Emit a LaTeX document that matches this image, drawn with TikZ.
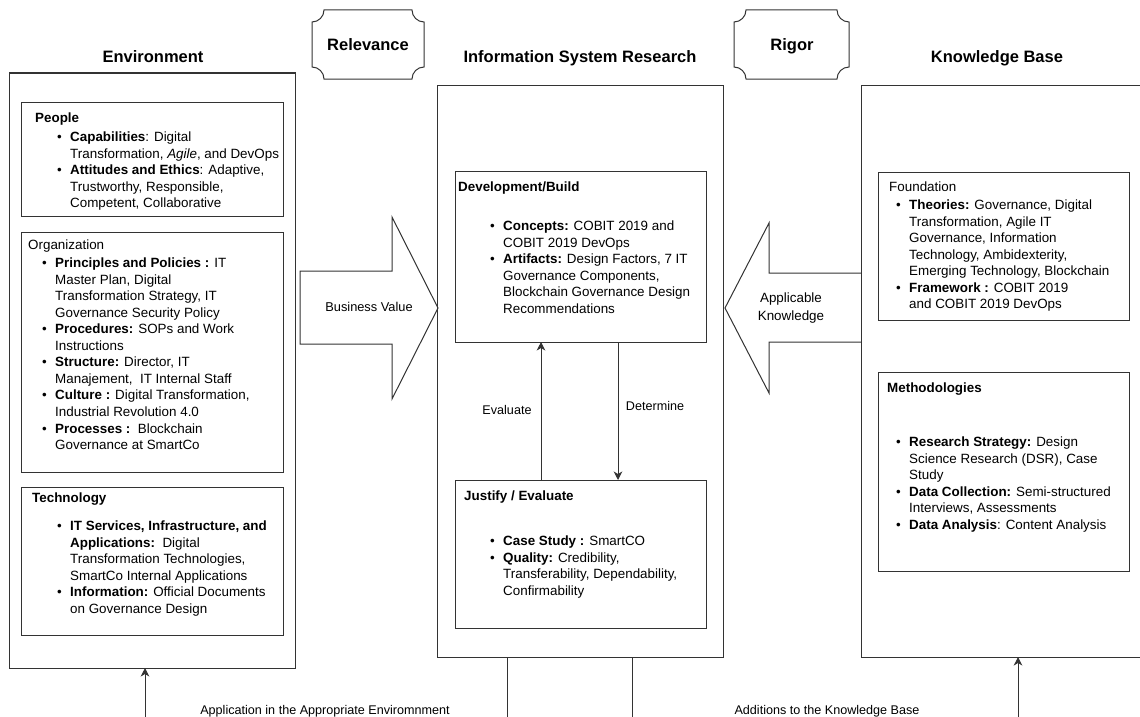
\documentclass[tikz,border=0pt]{standalone}
\usepackage{fontspec}
\setmainfont{Liberation Sans}
\usetikzlibrary{arrows.meta}
\begin{document}
\begin{tikzpicture}[x=1pt,y=-1pt,
  box/.style={draw=black!80, line width=1pt, rectangle, inner sep=0pt, outer sep=0pt},
  body/.style={font=\fontsize{13.4}{16.55}\selectfont, inner sep=0pt, anchor=base west},
  hd/.style={font=\fontsize{13.4}{16.55}\selectfont\bfseries, inner sep=0pt, anchor=base west},
  hdr/.style={font=\fontsize{13.4}{16.55}\selectfont, inner sep=0pt, anchor=base west},
  ttl/.style={font=\fontsize{16.5}{19}\selectfont\bfseries, inner sep=0pt, anchor=base},
  lbl/.style={font=\fontsize{12.6}{15}\selectfont, inner sep=0pt},
  conn/.style={draw=black!80, line width=1pt},
  arr/.style={conn, -{Stealth[length=8.5pt,width=8.5pt,inset=2.5pt]}}
]
\useasboundingbox (0,0) rectangle (1140,717);
\clip (0,0) rectangle (1140,717);

% ---------- titles ----------
\node[ttl] (envt) at (153,63) {Environment};
\node[ttl] (isrt) at (580,63) {Information System Research};
\node[ttl] (kbt)  at (997,63) {Knowledge Base};

% ---------- plaques ----------
\draw[conn] (324,10) -- (412,10) .. controls (412,16.6) and (417.4,22) .. (424,22)
  -- (424,67) .. controls (417.4,67) and (412,72.4) .. (412,79)
  -- (324,79) .. controls (324,72.4) and (318.6,67) .. (312,67)
  -- (312,22) .. controls (318.6,22) and (324,16.6) .. (324,10) -- cycle;
\node[ttl] (relevance) at (368,51) {Relevance};
\draw[conn] (746,10) -- (837,10) .. controls (837,16.6) and (842.4,22) .. (849,22)
  -- (849,67) .. controls (842.4,67) and (837,72.4) .. (837,79)
  -- (746,79) .. controls (746,72.4) and (740.6,67) .. (734,67)
  -- (734,22) .. controls (740.6,22) and (746,16.6) .. (746,10) -- cycle;
\node[ttl] (rigor) at (792,50.5) {Rigor};

% ---------- boxes ----------
\node[box, minimum width=286pt, minimum height=595pt] (env) at (152,370.5) {};
\node[box, minimum width=262pt, minimum height=114pt] (people) at (152,159) {};
\node[box, minimum width=262pt, minimum height=240pt] (org) at (152,352) {};
\node[box, minimum width=262pt, minimum height=148pt] (tech) at (152,561) {};
\node[box, minimum width=286pt, minimum height=572pt] (isr) at (580,371) {};
\node[box, minimum width=251pt, minimum height=171pt] (dev) at (580.5,256.5) {};
\node[box, minimum width=251pt, minimum height=148pt] (just) at (580.5,554) {};
\node[box, minimum width=289pt, minimum height=572pt] (kb) at (1005.5,371) {};
\node[box, minimum width=251pt, minimum height=148pt] (found) at (1003.5,246) {};
\node[box, minimum width=251pt, minimum height=199pt] (meth) at (1003.5,471.5) {};

% ---------- People ----------
\node[hd] (peoplet) at (35,122.5) {People};
\node[body] (peoplel) at (57,141.5) {\begin{tabular}[t]{@{}p{13pt}@{}l@{}}
\textbullet & \textbf{Capabilities}: Digital\\
 & Transformation, \textit{Agile}, and DevOps\\
\textbullet & \textbf{Attitudes and Ethics}: Adaptive,\\
 & Trustworthy, Responsible,\\
 & Competent, Collaborative
\end{tabular}};

% ---------- Organization ----------
\node[hdr] (orgt) at (28,249.5) {Organization};
\node[body] (orgl) at (42,267.5) {\begin{tabular}[t]{@{}p{13pt}@{}l@{}}
\textbullet & \textbf{Principles and Policies :} IT\\
 & Master Plan, Digital\\
 & Transformation Strategy, IT\\
 & Governance Security Policy\\
\textbullet & \textbf{Procedures:} SOPs and Work\\
 & Instructions\\
\textbullet & \textbf{Structure:} Director, IT\\
 & Manajement,\ \ IT Internal Staff\\
\textbullet & \textbf{Culture :} Digital Transformation,\\
 & Industrial Revolution 4.0\\
\textbullet & \textbf{Processes :}\ \ Blockchain\\
 & Governance at SmartCo
\end{tabular}};

% ---------- Technology ----------
\node[hd] (techt) at (32,502.5) {Technology};
\node[body] (techl) at (57,530.5) {\begin{tabular}[t]{@{}p{13pt}@{}l@{}}
\textbullet & \textbf{IT Services, Infrastructure, and}\\
 & \textbf{Applications:}\ \ Digital\\
 & Transformation Technologies,\\
 & SmartCo Internal Applications\\
\textbullet & \textbf{Information:} Official Documents\\
 & on Governance Design
\end{tabular}};

% ---------- Development/Build ----------
\node[hd] (devt) at (458,191.5) {Development/Build};
\node[body] (devl) at (490,230.5) {\begin{tabular}[t]{@{}p{13pt}@{}l@{}}
\textbullet & \textbf{Concepts:} COBIT 2019 and\\
 & COBIT 2019 DevOps\\
\textbullet & \textbf{Artifacts:} Design Factors, 7 IT\\
 & Governance Components,\\
 & Blockchain Governance Design\\
 & Recommendations
\end{tabular}};

% ---------- Justify / Evaluate ----------
\node[hd] (justt) at (464,500.5) {Justify / Evaluate};
\node[body] (justl) at (490,545.5) {\begin{tabular}[t]{@{}p{13pt}@{}l@{}}
\textbullet & \textbf{Case Study :} SmartCO\\
\textbullet & \textbf{Quality:} Credibility,\\
 & Transferability, Dependability,\\
 & Confirmability
\end{tabular}};

% ---------- Foundation ----------
\node[hdr] (foundt) at (889,191.5) {Foundation};
\node[body] (foundl) at (896,209.5) {\begin{tabular}[t]{@{}p{13pt}@{}l@{}}
\textbullet & \textbf{Theories:} Governance, Digital\\
 & Transformation, Agile IT\\
 & Governance, Information\\
 & Technology, Ambidexterity,\\
 & Emerging Technology, Blockchain\\
\textbullet & \textbf{Framework :} COBIT 2019\\
 & and COBIT 2019 DevOps
\end{tabular}};

% ---------- Methodologies ----------
\node[hd] (metht) at (887,392.5) {Methodologies};
\node[body] (methl) at (896,446.5) {\begin{tabular}[t]{@{}p{13pt}@{}l@{}}
\textbullet & \textbf{Research Strategy:} Design\\
 & Science Research (DSR), Case\\
 & Study\\
\textbullet & \textbf{Data Collection:} Semi-structured\\
 & Interviews, Assessments\\
\textbullet & \textbf{Data Analysis}: Content Analysis
\end{tabular}};

% ---------- big arrows ----------
\draw[conn] (300,271) -- (392,271) -- (392,217) -- (438,308) -- (392,399) -- (392,344) -- (300,344) -- cycle;
\node[lbl, font=\fontsize{12.8}{15}\selectfont] (bv) at (369,307) {Business Value};
\draw[conn] (861,273) -- (769,273) -- (769,223) -- (725,308) -- (769,393) -- (769,342) -- (861,342);
\node[lbl, align=center, font=\fontsize{13.4}{17.3}\selectfont] (ak) at (791,308) {Applicable\\Knowledge};

% ---------- inner connectors ----------
\coordinate (ev) at (541,0);
\coordinate (dt) at (618,0);
\draw[arr] (ev |- just.north) -- (ev |- dev.south);
\draw[arr] (dt |- dev.south) -- (dt |- just.north);
\node[lbl] (evl) at (507,410) {Evaluate};
\node[lbl] (detl) at (655,406) {Determine};

% ---------- bottom connectors ----------
\coordinate (envin) at (145,717);
\coordinate (isro1) at (507,717);
\coordinate (isro2) at (632,717);
\coordinate (kbin) at (1018,717);
\draw[arr] (envin) -- (envin |- env.south);
\draw[conn] (isro1 |- isr.south) -- (isro1);
\draw[conn] (isro2 |- isr.south) -- (isro2);
\draw[arr] (kbin) -- (kbin |- kb.south);
\node[lbl, anchor=base] (appl) at (325,714) {Application in the Appropriate Enviromnment};
\node[lbl, anchor=base] (addl) at (827,714) {Additions to the Knowledge Base};
\end{tikzpicture}
\end{document}
